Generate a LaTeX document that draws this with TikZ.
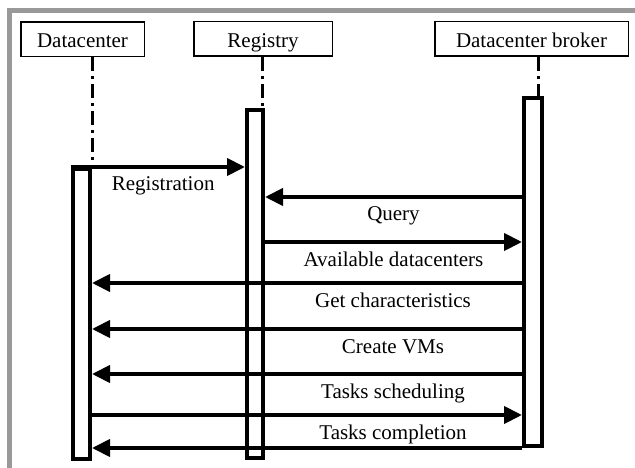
\documentclass[tikz,border=0pt]{standalone}
\usepackage{fontspec}
\setmainfont{Liberation Serif}
\usetikzlibrary{arrows.meta}
\begin{document}
\begin{tikzpicture}[x=1pt,y=-1pt] % sequence diagram
\tikzstyle{head} = [draw, line width=1.5pt, minimum height=34.5pt, inner sep=0pt, text height=17pt, text depth=0pt, font=\fontsize{21}{25}\selectfont] % header box
\tikzstyle{bar} = [draw, line width=4pt, inner sep=0pt, fill=white] % activation bar
\tikzstyle{life} = [line width=3pt, dash pattern=on 14pt off 5pt on 3pt off 5pt] % lifeline
\tikzstyle{msg} = [line width=4pt, -{Triangle[length=18pt,width=17pt]}] % message arrow
\tikzstyle{lbl} = [font=\fontsize{21}{25}\selectfont, anchor=base, yshift=-24pt, inner sep=0pt] % message text
\useasboundingbox (0,0) rectangle (635,468);
\draw[line width=5pt, black!40] (9.5,468) -- (9.5,10.5) -- (635,10.5); % frame
% headers
\node[head, minimum width=123.5pt] (dc) at (82.5,39.5) {Datacenter};
\node[head, minimum width=138.5pt] (reg) at (263,39) {Registry};
\node[head, minimum width=193.5pt] (br) at (531.5,39) {Datacenter broker};
% bars
\node[bar, minimum width=17pt, minimum height=290pt] (dcbar) at (81.5,314) {};
\node[bar, minimum width=16pt, minimum height=348pt] (regbar) at (255,284) {};
\node[bar, minimum width=18pt, minimum height=348pt] (brbar) at (533,272) {};
% lifelines
\draw[life] (dc.south -| dcbar.east) -- (dcbar.north east);
\draw[life] (reg.south -| 262,0) -- (regbar.north -| 262,0);
\draw[life] (br.south -| 538,0) -- (brbar.north -| 538,0);
% messages
\draw[msg] (dcbar.north west) -- node[lbl, pos=0.53] {Registration} (regbar.west |- dcbar.north);
\draw[msg] (brbar.west |- 0,197) -- node[lbl] {Query} (regbar.east |- 0,197);
\draw[msg] (regbar.east |- 0,242) -- node[lbl] {Available datacenters} (brbar.west |- 0,242);
\draw[msg] (brbar.west |- 0,283) -- node[lbl, pos=0.3] {Get characteristics} (dcbar.east |- 0,283);
\draw[msg] (brbar.west |- 0,329) -- node[lbl, pos=0.3] {Create VMs} (dcbar.east |- 0,329);
\draw[msg] (brbar.west |- 0,374) -- node[lbl, pos=0.3] {Tasks scheduling} (dcbar.east |- 0,374);
\draw[msg] (dcbar.east |- 0,415) -- node[lbl, pos=0.7] {Tasks completion} (brbar.west |- 0,415);
\draw[msg] (brbar.south west) -- (dcbar.east |- brbar.south);
\end{tikzpicture}
\end{document}
